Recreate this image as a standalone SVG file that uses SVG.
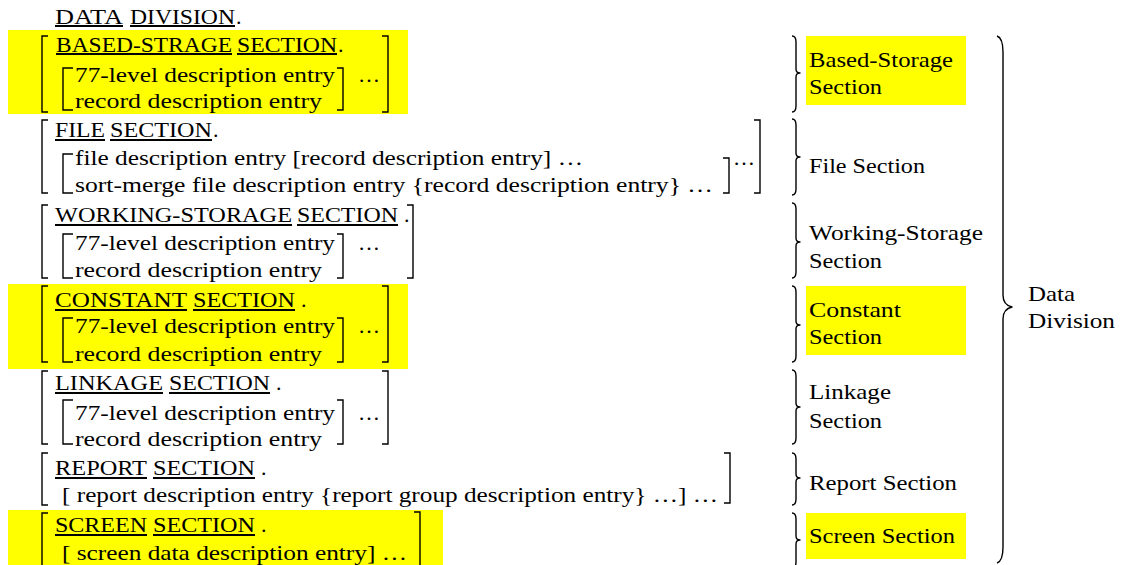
<svg xmlns="http://www.w3.org/2000/svg" width="1128" height="565" viewBox="0 0 1128 565">
  <style>
    text { font-family: "Liberation Serif", "Times New Roman", serif; font-size: 22px; fill: #000; }
    .hl { fill: #ffff00; }
    .ul { stroke: #000; stroke-width: 2; }
    .br { fill: none; stroke: #000; stroke-width: 1.4; }
    .brace { fill: none; stroke: #000; stroke-width: 1.4; stroke-linejoin: round; }
  </style>

  <rect width="1128" height="565" fill="#fff"/>

  <!-- heading -->
  <g id="data-division-header">
    <text x="55" y="23.5" textLength="68" lengthAdjust="spacingAndGlyphs">DATA</text>
    <text x="130" y="23.5" textLength="105" lengthAdjust="spacingAndGlyphs">DIVISION</text>
    <text x="236" y="23.5">.</text>
    <line class="ul" x1="55" y1="26" x2="123" y2="26"/>
    <line class="ul" x1="130" y1="26" x2="235" y2="26"/>
  </g>

  <!-- based-storage section -->
  <g id="based-storage">
    <rect class="hl" x="8" y="30" width="400" height="84"/>
    <path class="br" d="M48 36H42V112H48"/>
    <path class="br" d="M382 36H388V112H382"/>
    <text x="56" y="51.5" textLength="176" lengthAdjust="spacingAndGlyphs">BASED-STRAGE</text>
    <text x="237" y="51.5" textLength="100" lengthAdjust="spacingAndGlyphs">SECTION</text>
    <text x="338" y="51.5">.</text>
    <line class="ul" x1="56" y1="54" x2="232" y2="54"/>
    <line class="ul" x1="237" y1="54" x2="337" y2="54"/>
    <path class="br" d="M73 68H63V110H73"/>
    <path class="br" d="M337 68H343V110H337"/>
    <text x="75" y="81.5" textLength="260" lengthAdjust="spacingAndGlyphs">77-level description entry</text>
    <text x="75" y="107.5" textLength="247" lengthAdjust="spacingAndGlyphs">record description entry</text>
    <text x="358" y="81.5">…</text>
  </g>

  <!-- file section -->
  <g id="file-section">
    <path class="br" d="M48 120H42V193H48"/>
    <path class="br" d="M754 120H760V193H754"/>
    <text x="55" y="136.5" textLength="50" lengthAdjust="spacingAndGlyphs">FILE</text>
    <text x="110" y="136.5" textLength="102" lengthAdjust="spacingAndGlyphs">SECTION</text>
    <text x="213" y="136.5">.</text>
    <line class="ul" x1="55" y1="140" x2="105" y2="140"/>
    <line class="ul" x1="110" y1="140" x2="212" y2="140"/>
    <path class="br" d="M73 154H63V193H73"/>
    <path class="br" d="M723 158H729V193H723"/>
    <text x="75" y="164.5" textLength="508" lengthAdjust="spacingAndGlyphs">file description entry [record description entry] …</text>
    <text x="75" y="191.5" textLength="638" lengthAdjust="spacingAndGlyphs">sort-merge file description entry {record description entry} …</text>
    <text x="733" y="164.5">…</text>
  </g>

  <!-- working-storage section -->
  <g id="working-storage">
    <path class="br" d="M48 205H42V278H48"/>
    <path class="br" d="M407 205H413V278H407"/>
    <text x="55" y="221.5" textLength="237" lengthAdjust="spacingAndGlyphs">WORKING-STORAGE</text>
    <text x="297" y="221.5" textLength="101" lengthAdjust="spacingAndGlyphs">SECTION</text>
    <text x="404" y="221.5">.</text>
    <line class="ul" x1="55" y1="225" x2="292" y2="225"/>
    <line class="ul" x1="297" y1="225" x2="398" y2="225"/>
    <path class="br" d="M73 234H63V278H73"/>
    <path class="br" d="M337 234H343V278H337"/>
    <text x="75" y="250" textLength="260" lengthAdjust="spacingAndGlyphs">77-level description entry</text>
    <text x="75" y="276.5" textLength="247" lengthAdjust="spacingAndGlyphs">record description entry</text>
    <text x="358" y="250">…</text>
  </g>

  <!-- constant section -->
  <g id="constant">
    <rect class="hl" x="8" y="284" width="400" height="85"/>
    <path class="br" d="M48 286H42V362H48"/>
    <path class="br" d="M382 286H388V362H382"/>
    <text x="55" y="306.5" textLength="132" lengthAdjust="spacingAndGlyphs">CONSTANT</text>
    <text x="193" y="306.5" textLength="102" lengthAdjust="spacingAndGlyphs">SECTION</text>
    <text x="301" y="306.5">.</text>
    <line class="ul" x1="55" y1="310" x2="187" y2="310"/>
    <line class="ul" x1="193" y1="310" x2="295" y2="310"/>
    <path class="br" d="M73 318H63V362H73"/>
    <path class="br" d="M337 318H343V362H337"/>
    <text x="75" y="333" textLength="260" lengthAdjust="spacingAndGlyphs">77-level description entry</text>
    <text x="75" y="360.5" textLength="247" lengthAdjust="spacingAndGlyphs">record description entry</text>
    <text x="358" y="333">…</text>
  </g>

  <!-- linkage section -->
  <g id="linkage">
    <path class="br" d="M48 371H42V444H48"/>
    <path class="br" d="M382 371H388V444H382"/>
    <text x="55" y="389.5" textLength="108" lengthAdjust="spacingAndGlyphs">LINKAGE</text>
    <text x="169" y="389.5" textLength="101" lengthAdjust="spacingAndGlyphs">SECTION</text>
    <text x="276" y="389.5">.</text>
    <line class="ul" x1="55" y1="393" x2="163" y2="393"/>
    <line class="ul" x1="169" y1="393" x2="270" y2="393"/>
    <path class="br" d="M73 400H63V444H73"/>
    <path class="br" d="M337 400H343V444H337"/>
    <text x="75" y="419.5" textLength="260" lengthAdjust="spacingAndGlyphs">77-level description entry</text>
    <text x="75" y="446" textLength="247" lengthAdjust="spacingAndGlyphs">record description entry</text>
    <text x="358" y="419.5">…</text>
  </g>

  <!-- report section -->
  <g id="report">
    <path class="br" d="M48 453H42V505H48"/>
    <path class="br" d="M724 453H730V503H724"/>
    <text x="55" y="474.5" textLength="92" lengthAdjust="spacingAndGlyphs">REPORT</text>
    <text x="153" y="474.5" textLength="102" lengthAdjust="spacingAndGlyphs">SECTION</text>
    <text x="261" y="474.5">.</text>
    <line class="ul" x1="55" y1="478" x2="147" y2="478"/>
    <line class="ul" x1="153" y1="478" x2="255" y2="478"/>
    <text x="62" y="501.5" textLength="656" lengthAdjust="spacingAndGlyphs">[ report description entry {report group description entry} …] …</text>
  </g>

  <!-- screen section -->
  <g id="screen">
    <rect class="hl" x="8" y="510" width="435" height="60"/>
    <path class="br" d="M48 513H42V570"/>
    <path class="br" d="M414 512H420V570"/>
    <text x="55" y="531.5" textLength="92" lengthAdjust="spacingAndGlyphs">SCREEN</text>
    <text x="153" y="531.5" textLength="102" lengthAdjust="spacingAndGlyphs">SECTION</text>
    <text x="261" y="531.5">.</text>
    <line class="ul" x1="55" y1="535" x2="147" y2="535"/>
    <line class="ul" x1="153" y1="535" x2="255" y2="535"/>
    <text x="62" y="559.5" textLength="345" lengthAdjust="spacingAndGlyphs">[ screen data description entry] …</text>
  </g>

  <!-- section names -->
  <g id="label-based-storage">
    <rect class="hl" x="806" y="36" width="160" height="69"/>
    <text x="809" y="67" textLength="144" lengthAdjust="spacingAndGlyphs">Based-Storage</text>
    <text x="809" y="94" textLength="73" lengthAdjust="spacingAndGlyphs">Section</text>
  </g>
  <g id="label-file">
    <text x="809" y="173" textLength="116" lengthAdjust="spacingAndGlyphs">File Section</text>
  </g>
  <g id="label-working-storage">
    <text x="809" y="240" textLength="174" lengthAdjust="spacingAndGlyphs">Working-Storage</text>
    <text x="809" y="268" textLength="73" lengthAdjust="spacingAndGlyphs">Section</text>
  </g>
  <g id="label-constant">
    <rect class="hl" x="806" y="286" width="160" height="69"/>
    <text x="809" y="317" textLength="92" lengthAdjust="spacingAndGlyphs">Constant</text>
    <text x="809" y="344" textLength="73" lengthAdjust="spacingAndGlyphs">Section</text>
  </g>
  <g id="label-linkage">
    <text x="809" y="399" textLength="82" lengthAdjust="spacingAndGlyphs">Linkage</text>
    <text x="809" y="428" textLength="73" lengthAdjust="spacingAndGlyphs">Section</text>
  </g>
  <g id="label-report">
    <text x="809" y="490" textLength="148" lengthAdjust="spacingAndGlyphs">Report Section</text>
  </g>
  <g id="label-screen">
    <rect class="hl" x="806" y="513" width="160" height="46"/>
    <text x="809" y="543" textLength="146" lengthAdjust="spacingAndGlyphs">Screen Section</text>
  </g>
  <g id="label-data-division">
    <text x="1028" y="301" textLength="47" lengthAdjust="spacingAndGlyphs">Data</text>
    <text x="1028" y="328" textLength="87" lengthAdjust="spacingAndGlyphs">Division</text>
  </g>

  <!-- braces grouping the sections -->
  <g id="connectors">
    <path class="brace" d="M792 36Q796 36 796 42V69Q796 73 800 73Q796 73 796 77V106Q796 112 792 112"/>
    <path class="brace" d="M792 119Q796 119 796 125V153Q796 157 800 157Q796 157 796 161V189Q796 195 792 195"/>
    <path class="brace" d="M792 203Q796 203 796 209V238Q796 242 800 242Q796 242 796 246V272Q796 278 792 278"/>
    <path class="brace" d="M792 286Q796 286 796 292V321Q796 325 800 325Q796 325 796 329V356Q796 362 792 362"/>
    <path class="brace" d="M792 370Q796 370 796 376V403Q796 407 800 407Q796 407 796 411V438Q796 444 792 444"/>
    <path class="brace" d="M792 453Q796 453 796 459V474Q796 478 800 478Q796 478 796 482V499Q796 505 792 505"/>
    <path class="brace" d="M792 513Q796 513 796 519V536Q796 540 800 540Q796 540 796 544V562Q796 568 792 568"/>
    <path class="brace" d="M997 36Q1003 38 1003 52V295Q1003 305 1012 307Q1003 309 1003 319V547Q1003 561 997 563"/>
  </g>
</svg>
